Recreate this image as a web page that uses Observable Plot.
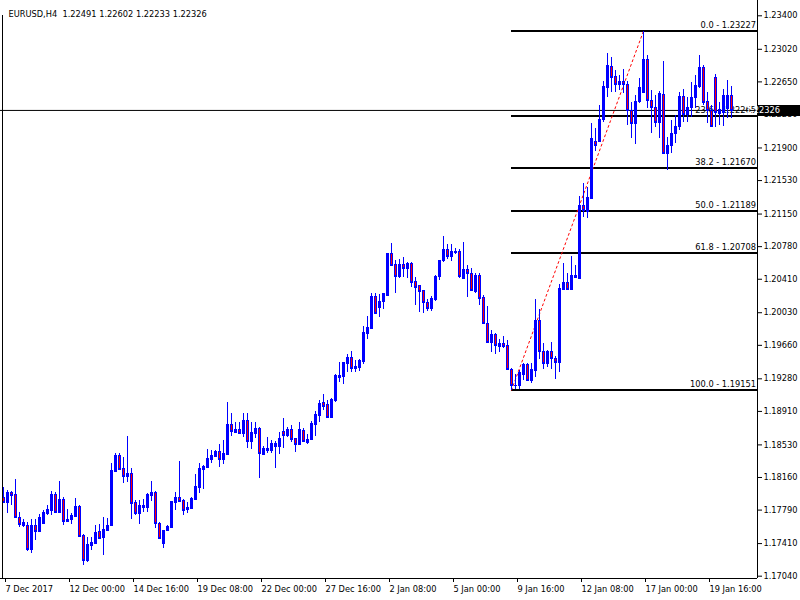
<!DOCTYPE html>
<html><head><meta charset="utf-8">
<script src="https://cdn.jsdelivr.net/npm/d3@7"></script>
<script src="https://cdn.jsdelivr.net/npm/@observablehq/plot@0.6"></script>
<style>
html,body{margin:0;padding:0;background:#fff;}
svg{display:block;}
</style></head><body><div id="chart"></div>
<script>
// ---------- DATA (EURUSD H4, bar index 0 = 7 Dec 2017 08:00) ----------
const opens = [
1.17930,1.17880,1.17993,1.17967,1.17703,1.17619,1.17615,1.17346,1.17612,1.17547,
1.17642,1.17748,1.17786,1.17967,1.17763,1.17910,1.17664,1.17680,1.17721,1.17831,
1.17502,1.17222,1.17392,1.17414,1.17547,1.17483,1.17559,1.17612,1.18232,1.18413,
1.18259,1.18175,1.18206,1.17876,1.17755,1.17823,1.17823,1.17959,1.17990,1.17642,
1.17414,1.17559,1.17596,1.17880,1.17933,1.17899,1.17800,1.17812,1.17914,1.18050,
1.18254,1.18277,1.18364,1.18402,1.18455,1.18364,1.18421,1.18762,1.18671,1.18705,
1.18663,1.18807,1.18572,1.18663,1.18716,1.18421,1.18470,1.18470,1.18515,1.18515,
1.18682,1.18637,1.18701,1.18599,1.18538,1.18694,1.18557,1.18595,1.18762,1.18864,
1.19011,1.18985,1.18841,1.19034,1.19295,1.19310,1.19450,1.19522,1.19401,1.19412,
1.19482,1.19798,1.19851,1.20214,1.20093,1.20154,1.20229,1.20702,1.20577,1.20445,
1.20577,1.20529,1.20592,1.20388,1.20336,1.20282,1.20150,1.20082,1.20180,1.20438,
1.20623,1.20748,1.20668,1.20714,1.20725,1.20422,1.20521,1.20479,1.20274,1.20449,
1.20206,1.19904,1.19692,1.19783,1.19647,1.19678,1.19655,1.19382,1.19201,1.19208,
1.19329,1.19443,1.19261,1.19374,1.19942,1.19590,1.19457,1.19590,1.19514,1.19469,
1.20297,1.20373,1.20297,1.20430,1.20419,1.21247,1.21179,1.21330,1.21977,1.21977,
1.22220,1.22590,1.22825,1.22711,1.22617,1.22654,1.22617,1.22325,1.22174,1.22427,
1.22533,1.22901,1.22439,1.22356,1.22186,1.22507,1.21834,1.21925,1.22061,1.22144,
1.22484,1.22280,1.22359,1.22473,1.22603,1.22817,1.22424,1.22325,1.22700,1.22291,
1.22306,1.22348,1.22491];
const highs = [
1.18050,1.18013,1.18005,1.18134,1.17763,1.17680,1.17653,1.17687,1.17687,1.17744,
1.17782,1.17842,1.18005,1.17993,1.18115,1.17937,1.17797,1.17752,1.17922,1.17842,
1.17513,1.17483,1.17483,1.17612,1.17627,1.17703,1.17691,1.18316,1.18429,1.18429,
1.18384,1.18621,1.18259,1.17899,1.17899,1.17910,1.17979,1.18115,1.18001,1.17649,
1.17559,1.17612,1.17888,1.17993,1.18345,1.17914,1.17873,1.17937,1.18194,1.18319,
1.18300,1.18478,1.18467,1.18467,1.18531,1.18580,1.19011,1.18890,1.18788,1.18788,
1.18883,1.18887,1.18788,1.18784,1.18724,1.18512,1.18618,1.18577,1.18569,1.18674,
1.18833,1.18731,1.18750,1.18606,1.18784,1.18720,1.18645,1.18796,1.18909,1.19034,
1.19102,1.19034,1.19057,1.19329,1.19465,1.19469,1.19553,1.19594,1.19488,1.19496,
1.19874,1.19987,1.20252,1.20245,1.20234,1.20252,1.20706,1.20819,1.20623,1.20631,
1.20654,1.20604,1.20604,1.20433,1.20343,1.20282,1.20177,1.20214,1.20453,1.20626,
1.20899,1.20801,1.20804,1.20756,1.20744,1.20830,1.20570,1.20529,1.20479,1.20479,
1.20226,1.20106,1.19828,1.19791,1.19726,1.19760,1.19715,1.19394,1.19326,1.19374,
1.19457,1.19450,1.19450,1.20180,1.20067,1.19678,1.19601,1.19692,1.19533,1.20347,
1.20585,1.20472,1.20668,1.20566,1.21353,1.21493,1.21448,1.22181,1.22118,1.22382,
1.22658,1.22969,1.22930,1.22779,1.22722,1.22787,1.22654,1.22419,1.22495,1.22685,
1.23227,1.22949,1.22552,1.22495,1.22541,1.22881,1.22022,1.22212,1.22269,1.22533,
1.22560,1.22469,1.22643,1.22722,1.22949,1.22836,1.22529,1.22382,1.22730,1.22419,
1.22558,1.22666,1.22602];
const lows = [
1.17862,1.17748,1.17842,1.17700,1.17596,1.17589,1.17317,1.17294,1.17445,1.17536,
1.17635,1.17729,1.17729,1.17755,1.17755,1.17615,1.17653,1.17630,1.17710,1.17483,
1.17165,1.17199,1.17332,1.17408,1.17464,1.17278,1.17551,1.17604,1.18214,1.18240,
1.18095,1.18107,1.17684,1.17732,1.17630,1.17766,1.17766,1.17891,1.17585,1.17468,
1.17358,1.17544,1.17596,1.17786,1.17888,1.17732,1.17755,1.17794,1.17896,1.17982,
1.18024,1.18266,1.18316,1.18395,1.18277,1.18311,1.18413,1.18625,1.18656,1.18656,
1.18618,1.18489,1.18478,1.18606,1.18152,1.18413,1.18436,1.18436,1.18266,1.18421,
1.18486,1.18618,1.18561,1.18444,1.18538,1.18557,1.18535,1.18588,1.18625,1.18781,
1.18920,1.18826,1.18841,1.19015,1.19238,1.19219,1.19352,1.19355,1.19355,1.19367,
1.19443,1.19726,1.19843,1.20010,1.19979,1.20067,1.20222,1.20558,1.20252,1.20415,
1.20433,1.20415,1.20320,1.20112,1.20036,1.20018,1.20044,1.20048,1.20161,1.20396,
1.20600,1.20631,1.20608,1.20687,1.20415,1.20407,1.20206,1.20274,1.20245,1.20112,
1.19893,1.19681,1.19582,1.19553,1.19582,1.19628,1.19374,1.19151,1.19155,1.19155,
1.19261,1.19250,1.19224,1.19298,1.19496,1.19386,1.19412,1.19382,1.19269,1.19355,
1.20290,1.20290,1.20290,1.20422,1.20407,1.21114,1.21103,1.21323,1.21863,1.21965,
1.22189,1.22476,1.22533,1.22533,1.22552,1.22515,1.22155,1.22004,1.21936,1.22401,
1.22515,1.22351,1.22068,1.22129,1.22004,1.21830,1.21644,1.21841,1.21947,1.22098,
1.22192,1.22192,1.22246,1.22348,1.22575,1.22382,1.22174,1.22136,1.22132,1.22155,
1.22138,1.22234,1.22233];
const closes = [
1.17880,1.17993,1.17952,1.17703,1.17623,1.17649,1.17346,1.17615,1.17551,1.17706,
1.17766,1.17797,1.17967,1.17766,1.17910,1.17664,1.17684,1.17729,1.17831,1.17491,
1.17222,1.17400,1.17422,1.17536,1.17471,1.17573,1.17612,1.18240,1.18413,1.18251,
1.18175,1.18209,1.17868,1.17755,1.17842,1.17842,1.17971,1.17990,1.17642,1.17471,
1.17559,1.17604,1.17888,1.17937,1.17891,1.17789,1.17823,1.17922,1.18058,1.18262,
1.18288,1.18376,1.18410,1.18455,1.18361,1.18432,1.18762,1.18686,1.18705,1.18663,
1.18807,1.18572,1.18671,1.18716,1.18436,1.18486,1.18489,1.18543,1.18546,1.18606,
1.18640,1.18701,1.18595,1.18538,1.18701,1.18565,1.18591,1.18770,1.18875,1.19000,
1.18966,1.18844,1.19045,1.19318,1.19318,1.19465,1.19522,1.19401,1.19420,1.19488,
1.19806,1.19862,1.20214,1.20018,1.20158,1.20245,1.20702,1.20566,1.20445,1.20577,
1.20529,1.20592,1.20377,1.20320,1.20274,1.20143,1.20082,1.20192,1.20441,1.20623,
1.20748,1.20672,1.20725,1.20725,1.20445,1.20521,1.20472,1.20282,1.20449,1.20195,
1.19904,1.19696,1.19783,1.19662,1.19678,1.19647,1.19382,1.19201,1.19208,1.19355,
1.19443,1.19261,1.19382,1.19942,1.19594,1.19457,1.19590,1.19514,1.19469,1.20309,
1.20373,1.20297,1.20449,1.20453,1.21247,1.21190,1.21334,1.22011,1.21928,1.22223,
1.22598,1.22836,1.22703,1.22617,1.22654,1.22617,1.22325,1.22174,1.22427,1.22590,
1.22901,1.22439,1.22356,1.22186,1.22515,1.21834,1.21925,1.22061,1.22144,1.22484,
1.22280,1.22363,1.22473,1.22609,1.22817,1.22419,1.22325,1.22140,1.22303,1.22342,
1.22495,1.22490,1.22326];

const timeTickBars = [0,16,32,48,64,80,96,112,128,144,160,176];
const timeTickLabels = ["7 Dec 2017","12 Dec 00:00","14 Dec 16:00","19 Dec 08:00","22 Dec 00:00","27 Dec 16:00","2 Jan 08:00","5 Jan 00:00","9 Jan 16:00","12 Jan 08:00","17 Jan 00:00","19 Jan 16:00"];
const priceTicks = [1.23400,1.23020,1.22650,1.22280,1.21900,1.21530,1.21150,1.20780,1.20410,1.20030,1.19660,1.19280,1.18910,1.18530,1.18160,1.17790,1.17410,1.17040];

const fibLevels = ["0.0","23.6","38.2","50.0","61.8","100.0"];
const fibPrices = [1.23227,1.22265,1.21670,1.21189,1.20708,1.19151];
const fibStartBar = 127;   // swing low bar
const fibEndBar = 160;     // swing high bar
const fibLow = 1.19151, fibHigh = 1.23227;

const symbolName = "EURUSD,H4";
const lastBar = {open: 1.22491, high: 1.22602, low: 1.22233, close: 1.22326};
const lastPrice = 1.22326;

// ---------- LAYOUT ----------
const W = 800, H = 600, MR = 43, MB = 22;
const xDomain = [-0.75, 188.5];
const yDomain = [1.1701366, 1.2357365];
const BLUE = "#0000ff", RED = "#ff0000";
const FONT = "'DejaVu Sans', Verdana, sans-serif";

const bars = opens.map((o, i) => ({i, open: o, high: highs[i], low: lows[i], close: closes[i]}));
const pxPerPrice = 578 / (yDomain[1] - yDomain[0]);
const bears = bars.filter(d => (d.open - d.close) * pxPerPrice > 2.2);
const fib = fibLevels.map((lv, k) => ({level: lv, price: fibPrices[k], start: fibStartBar, end: xDomain[1]}));
const trend = [{i: fibStartBar, p: fibLow}, {i: fibEndBar, p: fibHigh}];
const fmt5 = v => v.toFixed(5);
const title = `${symbolName}  ${fmt5(lastBar.open)} ${fmt5(lastBar.high)} ${fmt5(lastBar.low)} ${fmt5(lastBar.close)}`;

const plot = Plot.plot({
  width: W, height: H,
  marginLeft: 0, marginRight: MR, marginTop: 0, marginBottom: MB,
  style: {fontFamily: FONT, fontSize: "8.25px", background: "#fff", color: "#000"},
  x: {type: "linear", domain: xDomain},
  y: {type: "linear", domain: yDomain},
  marks: [
    Plot.ruleY([lastPrice], {stroke: "#000"}),
    Plot.ruleY(fib, {y: "price", x1: "start", x2: "end", stroke: "#000", strokeWidth: 2, shapeRendering: "crispEdges"}),
    Plot.line(trend, {x: "i", y: "p", stroke: RED, strokeWidth: 1, strokeDasharray: "2,3"}),
    Plot.text(fib, {y: "price", text: d => `${d.level} - ${fmt5(d.price)}`, frameAnchor: "right", textAnchor: "end", dx: -1.5, dy: -5.6, fill: "#000", ariaLabel: "fib-labels"}),
    // candles
    Plot.ruleX(bars, {x: "i", y1: "high", y2: "low", stroke: BLUE, shapeRendering: "crispEdges"}),
    Plot.rect(bars, {x1: d => d.i - 0.375, x2: d => d.i + 0.375, y1: "open", y2: "close", fill: BLUE, shapeRendering: "crispEdges"}),
    Plot.ruleY(bars, {y: "open", x1: d => d.i - 0.375, x2: d => d.i + 0.375, stroke: BLUE, shapeRendering: "crispEdges"}),
    Plot.ruleY(bars, {y: "close", x1: d => d.i - 0.375, x2: d => d.i + 0.375, stroke: BLUE, shapeRendering: "crispEdges"}),
    Plot.ruleX(bears, {x: "i", y1: "open", y2: "close", stroke: RED, insetTop: 1, insetBottom: 1, shapeRendering: "crispEdges"}),
    // frame
    Plot.ruleX([xDomain[1]], {stroke: "#000"}),
    Plot.ruleY([yDomain[0]], {stroke: "#000"}),
    Plot.ruleX([xDomain[0]], {dx: 2, insetTop: 15, stroke: "#000"}),
    // axes
    Plot.axisY({anchor: "right", ticks: priceTicks, tickFormat: fmt5, tickSize: 4, tickPadding: 2, label: null, fill: "#000"}),
    Plot.axisX({anchor: "bottom", ticks: timeTickBars, tickFormat: d => timeTickLabels[timeTickBars.indexOf(d)], tickSize: 4, tickPadding: 4, textAnchor: "start", dx: 2, label: null, fill: "#000"}),
    Plot.text([title], {frameAnchor: "top-left", text: d => d, textAnchor: "start", dx: 8, dy: 10.9, fill: "#000"})
  ]
});
document.getElementById("chart").append(plot);

// white text backgrounds for the Fibonacci labels (MT4 style) and the current-price tag
const ns = "http://www.w3.org/2000/svg";
const yS = plot.scale("y");
const svgBox = plot.getBoundingClientRect();
const fibG = plot.querySelector('g[aria-label="fib-labels"]');
if (fibG) {
  const bg = document.createElementNS(ns, "g");
  fibG.querySelectorAll("text").forEach((t, k) => {
    const r = t.getBoundingClientRect();
    const lineC = yS.apply(fibPrices[k]) + 0.5;
    const top = r.top - svgBox.top;
    const rect = document.createElementNS(ns, "rect");
    rect.setAttribute("x", r.left - svgBox.left - 1);
    rect.setAttribute("y", top);
    rect.setAttribute("width", r.width + 2);
    rect.setAttribute("height", Math.max(0, Math.round(lineC - 1) - top + 0.0));
    rect.setAttribute("fill", "#fff");
    bg.appendChild(rect);
  });
  fibG.parentNode.insertBefore(bg, fibG);
}
const yP = yS.apply(lastPrice);
const svg = d3.select(plot);
svg.append("rect").attr("x", W - MR + 1).attr("y", Math.round(yP) - 5).attr("width", MR - 1).attr("height", 11).attr("fill", "#000");
svg.append("text").attr("x", W - MR + 6).attr("y", yP).attr("dy", "0.32em")
  .attr("fill", "#fff").attr("font-family", FONT).attr("font-size", "8.25px").text(fmt5(lastPrice));
</script>
</body></html>
